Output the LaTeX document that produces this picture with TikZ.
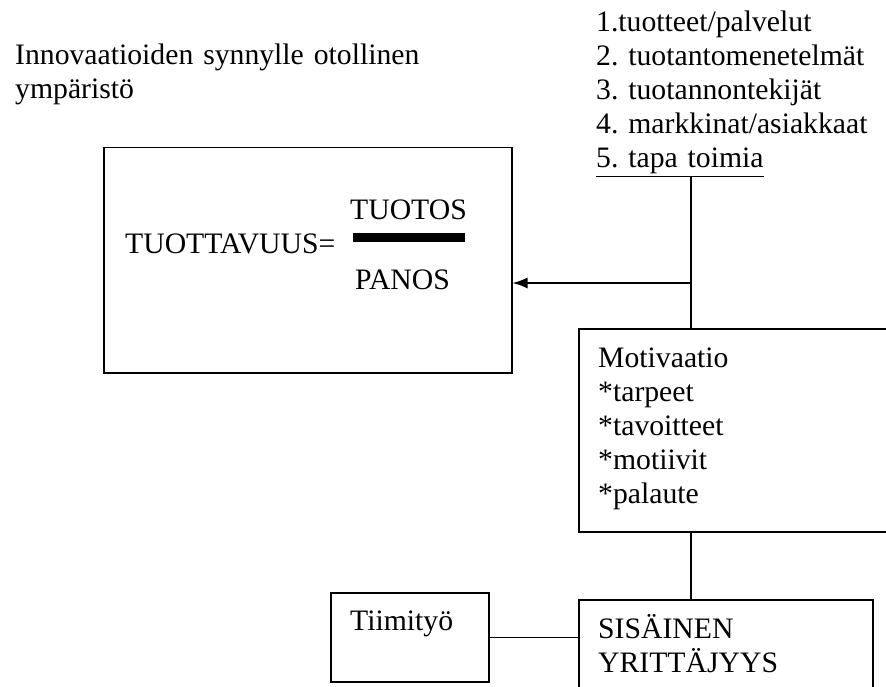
\documentclass[tikz,border=0pt]{standalone}
\usepackage{fontspec}
\setmainfont{Liberation Serif}
\usepackage{tikz}
\usetikzlibrary{arrows.meta}
\frenchspacing
\tikzstyle{laatikko} = [draw=black, line width=1.5pt, rectangle, inner sep=0pt, anchor=north west]
\tikzstyle{teksti} = [font={\fontsize{29.7}{34}\selectfont}, inner sep=0pt, anchor=base west]
\tikzstyle{lista} = [teksti, align=left, text width=450pt]
\tikzstyle{yhteys} = [draw=black, line width=1.5pt]

\begin{document}
\begin{tikzpicture}[x=1pt, y=-1pt]
    \useasboundingbox (0,0) rectangle (886,687);
    \clip (0,0) rectangle (886,687);
    \node[lista](otsikko) at (15,65){Innovaatioiden synnylle otollinen\\ympäristö};
    \node[lista](valinnat) at (596,32){1.tuotteet/palvelut\\2. tuotantomenetelmät\\3. tuotannontekijät\\4. markkinat/asiakkaat\\\underline{5. tapa toimia}};
    \node[laatikko, minimum width=408, minimum height=225](tuottavuus) at (103,147){};
    \node[teksti](kaava) at (125,254){TUOTTAVUUS=};
    \node[teksti](tuotos) at (350,219){TUOTOS};
    \node[teksti](panos) at (355,289){PANOS};
    \fill (353,233) rectangle (465,242);
    \node[laatikko, minimum width=322, minimum height=203](motivaatio) at (578,328){};
    \node[lista](motiivit) at (598,367){Motivaatio\\{}*tarpeet\\{}*tavoitteet\\{}*motiivit\\{}*palaute};
    \node[laatikko, minimum width=158, minimum height=89](tiimi) at (330,592){};
    \node[teksti](tiimi-t) at (350,630){Tiimityö};
    \node[laatikko, minimum width=294, minimum height=110](sisainen) at (578,599){};
    \node[lista](sisainen-t) at (598,638){SISÄINEN\\YRITTÄJYYS};
    \coordinate (haara) at (691,283);
    \draw[yhteys](valinnat.south -| haara)--(motivaatio.north -| haara);
    \draw[yhteys,-{Latex[length=15pt,width=11pt]}](haara)--(tuottavuus.east |- haara);
    \draw[yhteys](motivaatio.south -| haara)--(sisainen.north -| haara);
    \draw[yhteys](tiimi.east)--(sisainen.west |- tiimi.east);
\end{tikzpicture}
\end{document}
